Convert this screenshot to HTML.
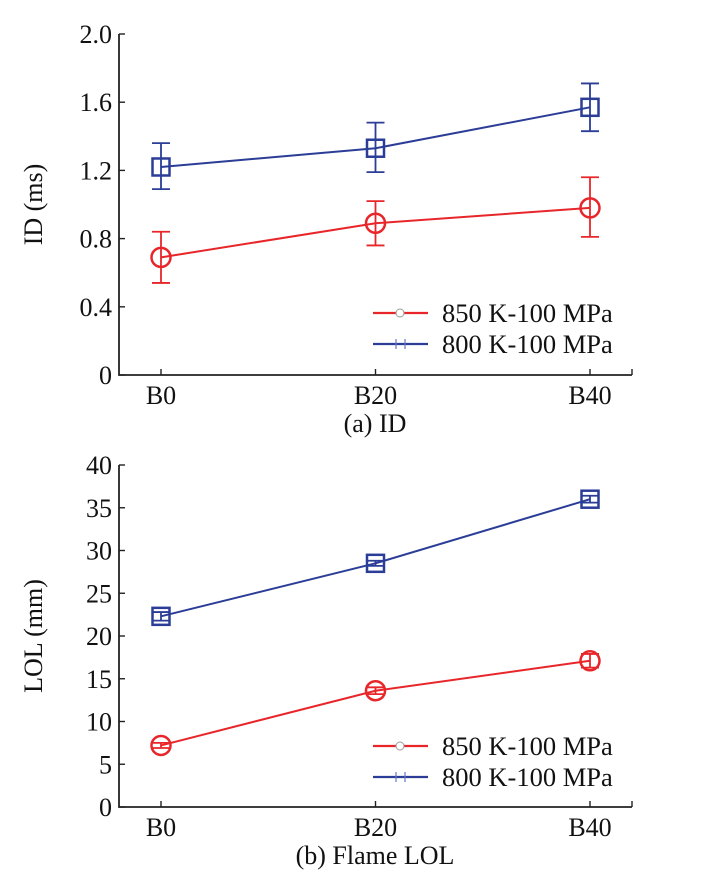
<!DOCTYPE html>
<html><head><meta charset="utf-8"><style>
body{margin:0;background:#fff;font-family:"Liberation Serif",serif}
svg text{fill:#111;font-family:"Liberation Serif",serif}
</style></head><body>
<svg width="702" height="877" xmlns="http://www.w3.org/2000/svg" id="root"></svg>
<script>
const categories=["B0","B20","B40"];
const idRed=[0.69,0.89,0.98];
const idRedLo=[0.54,0.76,0.81];
const idRedHi=[0.84,1.02,1.16];
const idBlue=[1.22,1.33,1.57];
const idBlueLo=[1.09,1.19,1.43];
const idBlueHi=[1.36,1.48,1.71];
const idTicks=[0,0.4,0.8,1.2,1.6,2.0];
const idTickLabels=["0","0.4","0.8","1.2","1.6","2.0"];
const lolRed=[7.2,13.6,17.1];
const lolRedLo=[6.9,13.2,16.3];
const lolRedHi=[7.5,14.0,17.9];
const lolBlue=[22.3,28.5,36.0];
const lolBlueLo=[21.8,28.2,35.6];
const lolBlueHi=[22.8,28.8,36.4];
const lolTicks=[0,5,10,15,20,25,30,35,40];
const lolTickLabels=["0","5","10","15","20","25","30","35","40"];
const RED="#e8262a",BLUE="#2b3d97";
const svg=document.getElementById('root');
const NS="http://www.w3.org/2000/svg";
function mk(tag,attrs,parent){const e=document.createElementNS(NS,tag);for(const k in attrs)e.setAttribute(k,attrs[k]);if(tag==='text'){e.style.fontFamily='"Liberation Serif", serif';e.style.fontSize=attrs['font-size']+'px';}(parent||svg).appendChild(e);return e;}
function panel(p){
  const g=mk('g',{});
  
  
  const L=119,R=632,x0=161,dx=(590-161)/2;
  const xs=i=>x0+i*dx;
  const ys=v=>p.y0-(v-p.min)/(p.max-p.min)*(p.y0-p.y1);
  const ax=mk('path',{d:`M${L} ${p.y1}V${p.y0}H${R}`,stroke:'#222','stroke-width':1.8,fill:'none'},g);
  
  
  p.ticks.forEach((t,i)=>{
    const y=ys(t);
    mk('line',{x1:L,x2:L+6,y1:y,y2:y,stroke:'#222','stroke-width':1.4},g);
    const tx=mk('text',{x:L-7,y:y+9,'text-anchor':'end','font-size':26},g);
    tx.textContent=p.tickLabels[i];
    
    
  });
  mk('line',{x1:R,x2:R,y1:p.y0,y2:p.y0-6,stroke:'#222','stroke-width':1.4},g);
  categories.forEach((c,i)=>{
    mk('line',{x1:xs(i),x2:xs(i),y1:p.y0,y2:p.y0-6,stroke:'#222','stroke-width':1.4},g);
    const tx=mk('text',{x:xs(i),y:p.y0+29,'text-anchor':'middle','font-size':26},g);
    tx.textContent=c;
    
    
  });
  const yl=mk('text',{x:0,y:0,'text-anchor':'middle','font-size':26,transform:`translate(42,${(p.y0+p.y1)/2}) rotate(-90)`},g);
  yl.textContent=p.ylabel;
  
  
  const cap=mk('text',{x:375,y:p.y0+57,'text-anchor':'middle','font-size':26},g);
  cap.textContent=p.caption;
  
  
  p.series.forEach(s=>{
    const pts=s.v.map((v,i)=>xs(i)+','+ys(v)).join(' ');
    const line=mk('polyline',{points:pts,fill:'none',stroke:s.c,'stroke-width':2},g);
    
    
    s.v.forEach((v,i)=>{
      const x=xs(i),lo=ys(s.lo[i]),hi=ys(s.hi[i]);
      const eb=mk('path',{d:`M${x} ${lo}V${hi}M${x-9} ${lo}H${x+9}M${x-9} ${hi}H${x+9}`,stroke:s.c,'stroke-width':1.8,fill:'none'},g);
      
      
      let m;
      if(s.shape==='circle') m=mk('circle',{cx:x,cy:ys(v),r:9.5,fill:'none',stroke:s.c,'stroke-width':2.5},g);
      else m=mk('rect',{x:x-8.5,y:ys(v)-8.5,width:17,height:17,fill:'none',stroke:s.c,'stroke-width':2.5},g);
      
      
    });
  });
  p.series.forEach((s,k)=>{
    const ly=p.legY+k*31;
    const lg=mk('g',{},g);
    
    
    mk('line',{x1:373,x2:428,y1:ly,y2:ly,stroke:s.c,'stroke-width':2.2},lg);
    if(s.shape==='circle') mk('circle',{cx:400,cy:ly,r:4,fill:'#fff',stroke:'#999','stroke-width':1},lg);
    else mk('path',{d:`M396 ${ly-5}V${ly+5}M405 ${ly-5}V${ly+5}`,stroke:'#6677cc','stroke-width':1.2},lg);
    const t=mk('text',{x:442,y:ly+9,'font-size':26.5},lg);
    t.textContent=s.label;
  });
}
panel({name:'chart-id',y0:375,y1:34,min:0,max:2,ticks:idTicks,tickLabels:idTickLabels,ylabel:'ID (ms)',caption:'(a) ID',legY:313,
  series:[{key:'850k',label:'850 K-100 MPa',c:RED,shape:'circle',v:idRed,lo:idRedLo,hi:idRedHi},
          {key:'800k',label:'800 K-100 MPa',c:BLUE,shape:'square',v:idBlue,lo:idBlueLo,hi:idBlueHi}]});
panel({name:'chart-lol',y0:807,y1:465,min:0,max:40,ticks:lolTicks,tickLabels:lolTickLabels,ylabel:'LOL (mm)',caption:'(b) Flame LOL',legY:746,
  series:[{key:'850k',label:'850 K-100 MPa',c:RED,shape:'circle',v:lolRed,lo:lolRedLo,hi:lolRedHi},
          {key:'800k',label:'800 K-100 MPa',c:BLUE,shape:'square',v:lolBlue,lo:lolBlueLo,hi:lolBlueHi}]});
</script>
</body></html>
